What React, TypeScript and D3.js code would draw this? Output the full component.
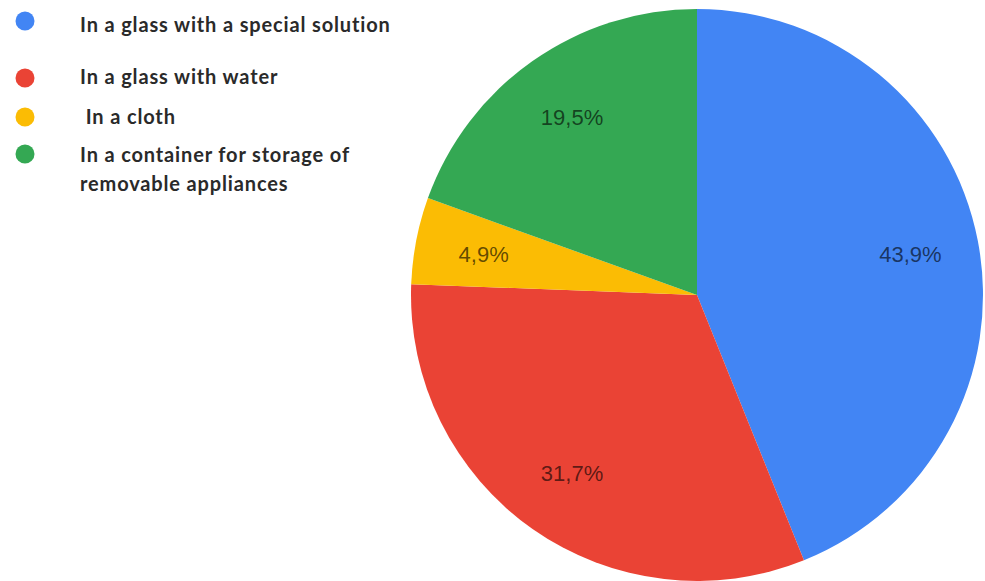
import React from "react";
import * as d3 from "d3";

const categories = [
  "In a glass with a special solution",
  "In a glass with water",
  " In a cloth",
  "In a container for storage of|removable appliances",
];
const values = [43.9, 31.7, 4.9, 19.5];
const colors = ["#4285F4", "#EA4335", "#FBBC04", "#34A853"];

const W = 985;
const H = 581;
const cx = 697;
const cy = 295;
const R = 286;

const legendY = [21, 78, 117, 154];
const legendBaselines = [[32], [84], [124], [162, 191]];

export default function App() {
  const pie = d3
    .pie<number>()
    .sort(null)
    .value((d) => d)
    .startAngle(0)
    .endAngle(2 * Math.PI);
  const arcs = pie(values);
  const arc = d3.arc<d3.PieArcDatum<number>>().innerRadius(0).outerRadius(R);
  const labelArc = d3
    .arc<d3.PieArcDatum<number>>()
    .innerRadius(R * 0.76)
    .outerRadius(R * 0.76);
  const fmt = (v: number) => d3.format(".1f")(v).replace(".", ",") + "%";

  return (
    <svg
      width={W}
      height={H}
      style={{ position: "absolute", left: 0, top: 0, display: "block", background: "#fff" }}
    >
      <g transform={`translate(${cx},${cy})`}>
        {arcs.map((a, i) => (
          <path key={i} d={arc(a) || ""} fill={colors[i]} />
        ))}
        {arcs.map((a, i) => {
          const [x, y] = labelArc.centroid(a);
          return (
            <text
              key={"l" + i}
              x={x}
              y={y}
              dy="0.36em"
              textAnchor="middle"
              fontFamily="'Liberation Sans', Arial, sans-serif"
              fontSize={22}
              fill="#000"
              fillOpacity={0.62}
            >
              {fmt(values[i])}
            </text>
          );
        })}
      </g>
      <g>
        {categories.map((c, i) => (
          <g key={"lg" + i}>
            <circle cx={25} cy={legendY[i]} r={9.5} fill={colors[i]} />
            {c.split("|").map((line, j) => (
              <text
                key={j}
                x={80}
                y={legendBaselines[i][j]}
                fontFamily="Lato, 'Open Sans', sans-serif"
                fontWeight={700}
                fontSize={20}
                letterSpacing={0.85}
                fill="#2a2a2a"
                style={{ whiteSpace: "pre" }}
              >
                {line}
              </text>
            ))}
          </g>
        ))}
      </g>
    </svg>
  );
}
